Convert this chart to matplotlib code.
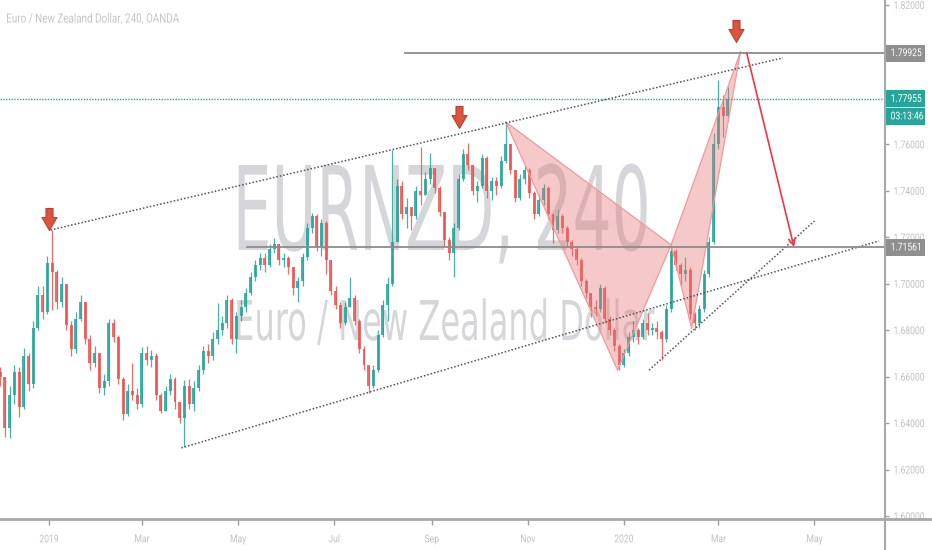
import datetime as dt
import numpy as np
import matplotlib
matplotlib.use("Agg")
import matplotlib.pyplot as plt
import matplotlib.dates as mdates
from matplotlib.path import Path
from matplotlib.patches import Polygon
from matplotlib.textpath import TextPath
from matplotlib.font_manager import FontProperties
from matplotlib.transforms import Affine2D, blended_transform_factory
from matplotlib.lines import Line2D
from matplotlib.patheffects import AbstractPathEffect

plt.rcParams['font.family'] = ['Roboto', 'DejaVu Sans']

# ---------------- data (3-day candles, EUR/NZD) ----------------
first_date = dt.datetime(2018, 12, 1)
step_days = 3
first_open = 1.6620
closes = [1.6600, 1.6380, 1.6520, 1.6620, 1.6470, 1.6690, 1.6570, 1.6810, 1.6950, 1.6880,
          1.7090, 1.7050, 1.6920, 1.7000, 1.6820, 1.6720, 1.6850, 1.6920, 1.6760, 1.6660,
          1.6700, 1.6550, 1.6580, 1.6830, 1.6770, 1.6590, 1.6440, 1.6540, 1.6520, 1.6480,
          1.6700, 1.6670, 1.6690, 1.6520, 1.6450, 1.6540, 1.6590, 1.6490, 1.6420, 1.6560,
          1.6480, 1.6550, 1.6630, 1.6710, 1.6690, 1.6760, 1.6800, 1.6830, 1.6930, 1.6760,
          1.6860, 1.6900, 1.6960, 1.7030, 1.7080, 1.7110, 1.7080, 1.7150, 1.7170, 1.7100,
          1.7110, 1.7070, 1.6980, 1.7010, 1.7115, 1.7240, 1.7290, 1.7160, 1.7260, 1.7100,
          1.6970, 1.6910, 1.6830, 1.6900, 1.6940, 1.6840, 1.6720, 1.6650, 1.6560, 1.6630,
          1.6780, 1.6910, 1.7000, 1.7180, 1.7420, 1.7300, 1.7330, 1.7290, 1.7400, 1.7380,
          1.7450, 1.7500, 1.7410, 1.7310, 1.7190, 1.7130, 1.7240, 1.7450, 1.7560, 1.7510,
          1.7400, 1.7420, 1.7540, 1.7400, 1.7440, 1.7420, 1.7530, 1.7600, 1.7490, 1.7370,
          1.7450, 1.7490, 1.7390, 1.7300, 1.7360, 1.7410, 1.7300, 1.7230, 1.7290, 1.7240,
          1.7180, 1.7150, 1.7100, 1.7010, 1.6960, 1.6900, 1.6890, 1.6980, 1.6850, 1.6800,
          1.6730, 1.6650, 1.6700, 1.6770, 1.6800, 1.6770, 1.6830, 1.6800, 1.6810, 1.6790,
          1.6760, 1.6890, 1.7140, 1.7080, 1.7040, 1.7060, 1.6870, 1.6830, 1.6890, 1.7040,
          1.7180, 1.7600, 1.7760, 1.7720, 1.77955]
highs = [1.6640, 1.6600, 1.6560, 1.6650, 1.6640, 1.6725, 1.6700, 1.6840, 1.6990, 1.6990,
         1.7120, 1.7231, 1.7060, 1.7030, 1.6990, 1.6840, 1.6880, 1.6950, 1.6920, 1.6780,
         1.6730, 1.6700, 1.6610, 1.6850, 1.6850, 1.6780, 1.6600, 1.6570, 1.6660, 1.6550,
         1.6728, 1.6730, 1.6715, 1.6700, 1.6530, 1.6560, 1.6610, 1.6600, 1.6490, 1.6585,
         1.6590, 1.6580, 1.6650, 1.6730, 1.6740, 1.6790, 1.6917, 1.6860, 1.6950, 1.6940,
         1.6880, 1.6930, 1.6980, 1.7050, 1.7100, 1.7130, 1.7130, 1.7170, 1.7195, 1.7170,
         1.7130, 1.7120, 1.7070, 1.7030, 1.7130, 1.7260, 1.7304, 1.7300, 1.7280, 1.7270,
         1.7080, 1.6990, 1.6920, 1.6920, 1.7030, 1.6950, 1.6850, 1.6730, 1.6650, 1.6650,
         1.6800, 1.6930, 1.7030, 1.7576, 1.7450, 1.7440, 1.7370, 1.7330, 1.7420, 1.7588,
         1.7480, 1.7563, 1.7500, 1.7420, 1.7300, 1.7200, 1.7260, 1.7470, 1.7580, 1.7606,
         1.7510, 1.7440, 1.7560, 1.7550, 1.7460, 1.7460, 1.7550, 1.7696, 1.7600, 1.7490,
         1.7470, 1.7510, 1.7500, 1.7400, 1.7380, 1.7430, 1.7420, 1.7300, 1.7320, 1.7300,
         1.7250, 1.7190, 1.7160, 1.7110, 1.7020, 1.6960, 1.6930, 1.7000, 1.6990, 1.6860,
         1.6810, 1.6740, 1.6720, 1.6790, 1.6840, 1.6810, 1.6850, 1.6874, 1.6830, 1.6840,
         1.6800, 1.6910, 1.7158, 1.7150, 1.7090, 1.7115, 1.7070, 1.6880, 1.6910, 1.7060,
         1.7200, 1.7650, 1.7877, 1.7810, 1.7847]
lows = [1.6560, 1.6340, 1.6336, 1.6480, 1.6426, 1.6460, 1.6540, 1.6550, 1.6800, 1.6850,
        1.6870, 1.6887, 1.6890, 1.6900, 1.6800, 1.6690, 1.6700, 1.6840, 1.6740, 1.6630,
        1.6640, 1.6530, 1.6520, 1.6560, 1.6750, 1.6570, 1.6413, 1.6430, 1.6500, 1.6460,
        1.6470, 1.6650, 1.6640, 1.6500, 1.6443, 1.6450, 1.6520, 1.6460, 1.6400, 1.6297,
        1.6460, 1.6450, 1.6540, 1.6610, 1.6660, 1.6670, 1.6740, 1.6780, 1.6810, 1.6740,
        1.6700, 1.6840, 1.6880, 1.6950, 1.7010, 1.7060, 1.7050, 1.7070, 1.7130, 1.7080,
        1.7070, 1.7040, 1.6950, 1.6920, 1.6990, 1.7100, 1.7220, 1.7140, 1.7120, 1.7040,
        1.6950, 1.6890, 1.6810, 1.6820, 1.6900, 1.6820, 1.6700, 1.6630, 1.6530, 1.6550,
        1.6620, 1.6770, 1.6840, 1.6990, 1.7300, 1.7280, 1.7240, 1.7230, 1.7280, 1.7340,
        1.7400, 1.7430, 1.7390, 1.7290, 1.7160, 1.7100, 1.7030, 1.7230, 1.7440, 1.7490,
        1.7380, 1.7350, 1.7410, 1.7370, 1.7360, 1.7380, 1.7410, 1.7520, 1.7470, 1.7350,
        1.7360, 1.7430, 1.7370, 1.7280, 1.7290, 1.7340, 1.7280, 1.7175, 1.7220, 1.7220,
        1.7160, 1.7120, 1.7080, 1.6990, 1.6940, 1.6857, 1.6860, 1.6880, 1.6830, 1.6780,
        1.6710, 1.6628, 1.6640, 1.6690, 1.6750, 1.6740, 1.6760, 1.6780, 1.6780, 1.6760,
        1.6671, 1.6750, 1.6880, 1.7060, 1.6990, 1.7010, 1.6850, 1.6800, 1.6810, 1.6880,
        1.7030, 1.7170, 1.7580, 1.7632, 1.7700]

# drawings (date, price)
pattern_dates = ['2019-10-18', '2019-12-28', '2020-01-31', '2020-02-13', '2020-03-15']  # X A B C D
pattern_prices = [1.7696, 1.6628, 1.7167, 1.6809, 1.7997]
upper_channel = (['2019-01-02', '2020-04-11'], [1.7231, 1.7972])
lower_channel = (['2019-03-26', '2020-06-11'], [1.6293, 1.7184])
trend_line = (['2020-01-17', '2020-05-01'], [1.6628, 1.7270])
level_top = ('2019-08-15', 1.79925)
level_mid = ('2019-05-07', 1.71561)
last_price = 1.77955
countdown = '03:13:46'
projection = (['2020-03-19', '2020-04-18'], [1.7993, 1.7158])
marker_dates = ['2019-01-01', '2019-09-18', '2020-03-12']
marker_prices = [1.7231, 1.7670, 1.8042]
y_ticks = [1.60, 1.62, 1.64, 1.66, 1.68, 1.70, 1.72, 1.74, 1.76, 1.78, 1.80, 1.82]
y_hidden = [1.78, 1.80]          # labels covered by the price tags in the reference
x_tick_dates = ['2019-01-01', '2019-03-01', '2019-05-01', '2019-07-01', '2019-09-01',
                '2019-11-01', '2020-01-01', '2020-03-01', '2020-05-01']
x_tick_labels = ['2019', 'Mar', 'May', 'Jul', 'Sep', 'Nov', '2020', 'Mar', 'May']
title = 'Euro / New Zealand Dollar, 240, OANDA'
wm_big = 'EURNZD, 240'
wm_small = 'Euro / New Zealand Dollar'

UP, DOWN = '#26a69a', '#ef5350'
W, H = 932, 550
FAM = 'Roboto'
WM_FAM = 'DejaVu Sans'


class HSquash(AbstractPathEffect):
    """Narrow the rendered glyphs horizontally (emulates a condensed face)."""
    def __init__(self, sx, anchor='left'):
        super().__init__()
        self.sx, self.anchor = sx, anchor

    def draw_path(self, renderer, gc, tpath, affine, rgbFace=None):
        bb = tpath.get_extents(affine)
        cx = {'left': bb.x0, 'right': bb.x1}.get(self.anchor, 0.5 * (bb.x0 + bb.x1))
        t = affine + Affine2D().translate(-cx, 0).scale(self.sx, 1).translate(cx, 0)
        renderer.draw_path(gc, tpath, t, rgbFace)


def fit_font(s, target_w, cap_px, family=FAM):
    """font size (pt) giving cap height cap_px, and x-squash giving width target_w."""
    fp = FontProperties(family=family)
    capE = TextPath((0, 0), 'E', size=100, prop=fp).get_extents().y1 / 100.0
    em = cap_px / capE
    w = TextPath((0, 0), s, size=em, prop=fp).get_extents().width
    return em * 72 / 100, min(1.0, target_w / w)


def D(s):
    return mdates.date2num(dt.datetime.fromisoformat(s))


fig = plt.figure(figsize=(W / 100, H / 100), dpi=100)
fig.patch.set_facecolor('white')
ax = fig.add_axes([0, 31 / H, 885 / W, 519 / H])
ax.set_facecolor('white')
for sp in ax.spines.values():
    sp.set_visible(False)

xl = (D('2018-11-30T21:20:00'), D('2020-06-14T19:00:00'))
ax.set_xlim(*xl)
ax.set_ylim(1.5987, 1.8221)

# ---------------- candles ----------------
dates = [first_date + dt.timedelta(days=step_days * i) for i in range(len(closes))]
xd = mdates.date2num(dates)
opens = [first_open] + closes[:-1]
c = np.array(closes); o = np.array(opens)
hi = np.maximum(np.array(highs), np.maximum(o, c))
lo = np.minimum(np.array(lows), np.minimum(o, c))
cols = [UP if cc >= oo else DOWN for oo, cc in zip(o, c)]
ax.vlines(xd, lo, hi, colors=cols, lw=0.9, zorder=2, alpha=0.85)
body_h = np.where(np.abs(c - o) < 0.0004, 0.0004 * np.sign(c - o + 1e-9), c - o)
ax.bar(xd, body_h, bottom=o, width=1.9, color=cols, zorder=2.1, alpha=0.85, linewidth=0)

# ---------------- watermark (real text, narrowed) ----------------
fs_big, sx_big = fit_font(wm_big, 408, 85, WM_FAM)
fs_small, sx_small = fit_font(wm_small, 417, 40, WM_FAM)
ax.text(441 / W, 1 - 250 / H, wm_big, transform=fig.transFigure, fontsize=fs_big,
        family=WM_FAM, color='#d5d6da', ha='center', va='baseline', zorder=0.5,
        path_effects=[HSquash(sx_big, 'center')])
ax.text(443 / W, 1 - 340 / H, wm_small, transform=fig.transFigure, fontsize=fs_small,
        family=WM_FAM, color='#d5d6da', ha='center', va='baseline', zorder=0.5,
        path_effects=[HSquash(sx_small, 'center')])

# ---------------- drawings ----------------
pd_ = [D(s) for s in pattern_dates]
for a, b in [(0, 3), (2, 5)]:
    ax.add_patch(Polygon(list(zip(pd_[a:b], pattern_prices[a:b])), closed=True,
                         fc='#e57373', alpha=0.38, ec='none', zorder=3))
for i, j in [(0, 1), (1, 2), (0, 2), (2, 3), (3, 4), (2, 4)]:
    ax.plot([pd_[i], pd_[j]], [pattern_prices[i], pattern_prices[j]],
            color='#ef9a9a', lw=0.9, zorder=3.1)

dot = (0, (1, 1.3))
for seg in [upper_channel, lower_channel, trend_line]:
    ax.plot([D(s) for s in seg[0]], seg[1], color='#50535e', lw=1.1, ls=dot, zorder=4)

ax.plot([D(level_top[0]), xl[1]], [level_top[1]] * 2, color='#8c8c8c', lw=1.3, zorder=4)
ax.plot([D(level_mid[0]), xl[1]], [level_mid[1]] * 2, color='#8c8c8c', lw=1.3, zorder=4)
ax.plot(list(xl), [last_price] * 2, color=UP, lw=1.0, ls=(0, (1, 1)), zorder=4)

ax.annotate('', xy=(D(projection[0][1]), projection[1][1]),
            xytext=(D(projection[0][0]), projection[1][0]),
            arrowprops=dict(arrowstyle='->', color='#f23645', lw=1.2,
                            shrinkA=0, shrinkB=0, mutation_scale=12), zorder=5)

arrow_path = Path([(-3.5, 22), (3.5, 22), (3.5, 13), (7.5, 13), (0, 0), (-7.5, 13),
                   (-3.5, 13), (-3.5, 22)],
                  [Path.MOVETO] + [Path.LINETO] * 6 + [Path.CLOSEPOLY])
ax.plot([D(s) for s in marker_dates], marker_prices, ls='none', marker=arrow_path,
        markersize=44 * 72 / 100, mfc='#dc5440', mec='#b8402f', mew=0.8, zorder=6,
        clip_on=False)

# ---------------- axes ----------------
fs_tick, sx_tick = fit_font('1.79925', 30, 7.6)
ax.yaxis.tick_right()
ax.set_yticks(y_ticks)
ax.set_yticklabels(['' if any(abs(v - h) < 1e-9 for h in y_hidden) else f'{v:.5f}'
                    for v in y_ticks])
ax.tick_params(axis='y', length=3, width=1, color='#9e9e9e', labelcolor='#c0c0c0',
               labelsize=fs_tick, pad=3)
ax.set_xticks([D(s) for s in x_tick_dates])
ax.set_xticklabels(x_tick_labels)
ax.tick_params(axis='x', length=4, width=1, color='#9e9e9e', labelcolor='#c0c0c0',
               labelsize=fs_tick, pad=7)
for t in ax.yaxis.get_major_ticks():
    t.label1.set_path_effects([HSquash(sx_tick, 'left')])
    t.label2.set_path_effects([HSquash(sx_tick, 'left')])
for t in ax.xaxis.get_major_ticks():
    t.label1.set_path_effects([HSquash(sx_tick, 'center')])

fig.add_artist(Line2D([0, 1], [31 / H, 31 / H], transform=fig.transFigure,
                      color='#a8a8a8', lw=2.0))
fig.add_artist(Line2D([885 / W, 885 / W], [0, 1], transform=fig.transFigure,
                      color='#a8a8a8', lw=1.5))


def fixed_box(width_px, height_px, left_off):
    def style(x0, y0, width, height, mutation_size):
        cy = y0 + height / 2
        l = x0 - left_off
        b, t = cy - height_px / 2, cy + height_px / 2
        return Path([(l, b), (l + width_px, b), (l + width_px, t), (l, t), (l, b)],
                    closed=True)
    return style


btr = blended_transform_factory(ax.transAxes, ax.transData)


def price_box(y, txt, fc, dy_px=0):
    ax.annotate(txt, xy=(1.0, y), xycoords=btr, xytext=(5.5 * 0.72, dy_px * 0.72),
                textcoords='offset points', ha='left', va='center', color='white',
                fontsize=fs_tick, zorder=10, annotation_clip=False,
                bbox=dict(boxstyle=fixed_box(40, 17, 5.5), fc=fc, ec='none'),
                path_effects=[HSquash(sx_tick, 'left')])


price_box(level_top[1], f'{level_top[1]:.5f}', '#8f8f8f')
price_box(level_mid[1], f'{level_mid[1]:.5f}', '#8f8f8f')
price_box(last_price, f'{last_price:.5f}', UP)
price_box(last_price, countdown, UP, dy_px=-17.5)

fs_title, sx_title = fit_font(title, 172, 9)
fig.text(6 / W, 1 - 22.5 / H, title, color='#c6c6c6', fontsize=fs_title, ha='left',
         va='baseline', path_effects=[HSquash(sx_title, 'left')])

fig.savefig('out.png', dpi=100, facecolor='white')
